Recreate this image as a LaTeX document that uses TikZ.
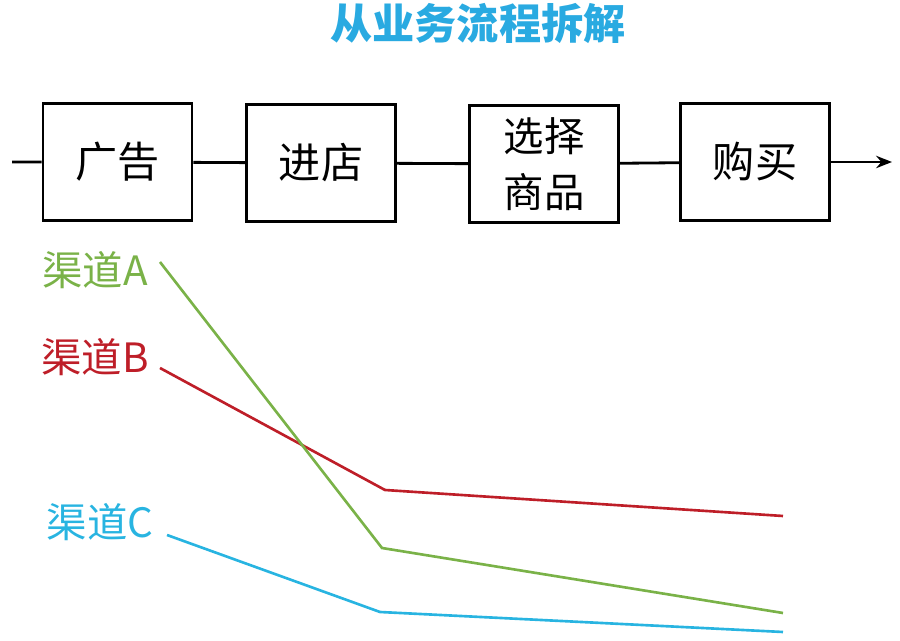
\documentclass[tikz,border=0pt]{standalone}
\usepackage{fontspec}
\usepackage{tikz}
\usetikzlibrary{arrows.meta}
\setmainfont{Noto Sans CJK SC}
\definecolor{titleblue}{RGB}{41,170,225}
\definecolor{chgreen}{RGB}{122,178,72}
\definecolor{chred}{RGB}{190,30,40}
\definecolor{chblue}{RGB}{40,180,225}
\tikzset{
  stage/.style={draw, line width=1.6pt, minimum width=2.98cm, minimum height=2.34cm, align=center, font=\fontsize{24}{28}\selectfont},
  chlabel/.style={font=\fontsize{23}{27}\selectfont},
  chline/.style={line width=1.5pt}
}
\begin{document}
\begin{tikzpicture}[x=0.02cm, y=-0.02cm]
	\useasboundingbox (0,0) rectangle (900,641);
	% title
	\node[text=titleblue, font=\bfseries\fontsize{24}{28}\selectfont] (title) at (478,24) {从业务流程拆解};
	% process
	\coordinate (start) at (12,162);
	\coordinate (end) at (892,162);
	\node[stage] (ad) at (117.5,162) {广告};
	\node[stage] (enter) at (321,163) {进店};
	\node[stage, font=\fontsize{23}{32}\selectfont] (choose) at (544,164) {选择\\商品};
	\node[stage] (buy) at (755,162) {购买};
	\draw[line width=1.6pt] (start) -- (ad) (ad) -- (enter) (enter) -- (choose) (choose) -- (buy);
	\draw[line width=1.6pt, -{Stealth[length=9pt,width=7pt]}] (buy) -- (end);
	% channels
	\node[chlabel, text=chgreen] (labA) at (95,270) {渠道A};
	\node[chlabel, text=chred] (labB) at (95,357) {渠道B};
	\node[chlabel, text=chblue] (labC) at (100,522) {渠道C};
	\coordinate (a1) at (160,262); \coordinate (a2) at (382,548); \coordinate (a3) at (783,613);
	\coordinate (b1) at (160,368); \coordinate (b2) at (385,490); \coordinate (b3) at (783,516);
	\coordinate (c1) at (167,535); \coordinate (c2) at (380,612); \coordinate (c3) at (783,632);
	\draw[chline, chred] (b1) -- (b2) -- (b3);
	\draw[chline, chgreen] (a1) -- (a2) -- (a3);
	\draw[chline, chblue] (c1) -- (c2) -- (c3);
\end{tikzpicture}
\end{document}
